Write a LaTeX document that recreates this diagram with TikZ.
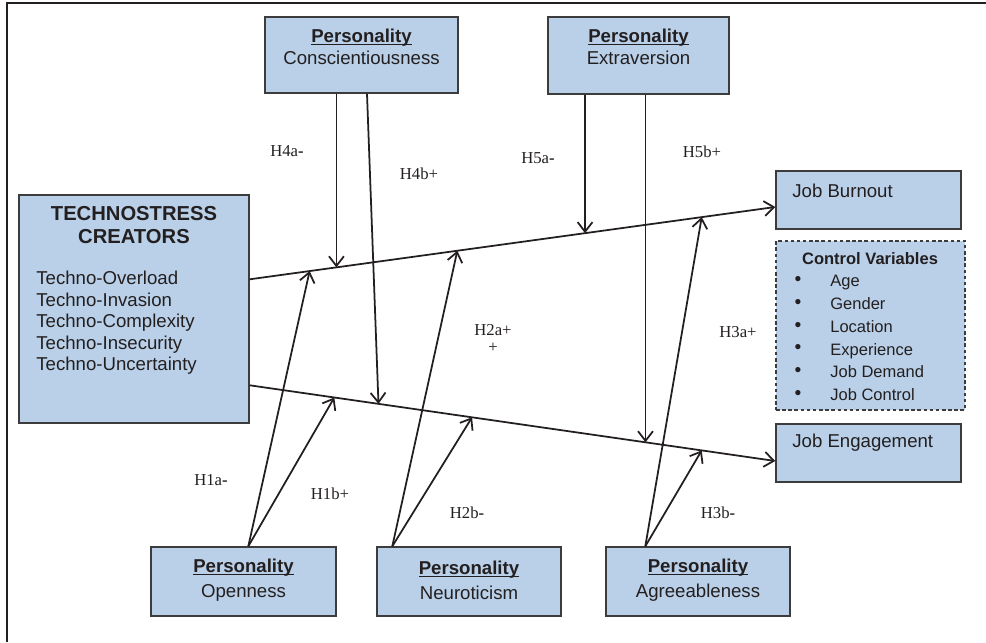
\documentclass[tikz,border=0pt]{standalone}
\usepackage{fontspec}
\setmainfont{Liberation Sans}
\newfontfamily\hfont{Liberation Serif}
\usetikzlibrary{arrows.meta,calc,fit}
\definecolor{boxfill}{RGB}{185,208,232}
\definecolor{boxline}{RGB}{60,60,60}
\definecolor{ink}{RGB}{35,31,32}
\newcommand\persul[1]{\setbox0\hbox{#1}\rlap{\rule[-1.6pt]{\wd0}{0.75pt}}\box0}
\newcommand\perstitle{\textbf{\persul{Personality}}}
\begin{document}
\begin{tikzpicture}[x=0.02cm,y=-0.02cm,
  box/.style={draw=boxline, line width=0.8pt, fill=boxfill, inner sep=0pt},
  dbox/.style={box, dash pattern=on 2pt off 1.5pt},
  txt/.style={inner sep=0pt, text=ink, font=\fontsize{10.6}{12.5}\selectfont},
  ptxt/.style={txt, align=center, font=\fontsize{10.6}{14.2}\selectfont},
  hyp/.style={inner sep=0pt, text=ink, font=\hfont\fontsize{9.5}{11}\selectfont},
  arr/.style={draw=ink, line width=1pt, -{Straight Barb[length=5.5pt,width=8.5pt]}},
  frameline/.style={draw=ink, line width=1.7pt}]

\useasboundingbox (0,0) rectangle (986,642);
\coordinate (fTR) at (986,3);
\coordinate (fTL) at (7,3);
\coordinate (fBL) at (7,642);
\draw[frameline] (fTR) -- (fTL) -- (fBL);

% boxes
\node[box, fit={(265,17)(458,93)}] (cons) {};
\node[box, fit={(548,17)(729,94)}] (ext) {};
\node[box, fit={(19,195)(249,423)}] (tc) {};
\node[box, fit={(776,171)(961,229)}] (jb) {};
\node[dbox, fit={(776,241)(965,410)}] (cv) {};
\node[box, fit={(776,424)(961,482)}] (je) {};
\node[box, fit={(151,547)(336,616)}] (open) {};
\node[box, fit={(377,547)(561,616)}] (neuro) {};
\node[box, fit={(606,547)(790,616)}] (agree) {};

% box texts
\node[txt, align=center] (cons-t) at (361.5,47) {\perstitle\\Conscientiousness};
\node[txt, align=center] (ext-t) at (638.5,47) {\perstitle\\Extraversion};
\node[txt, align=center, font=\bfseries\fontsize{11.5}{13.6}\selectfont] (tc-h) at (134,225) {TECHNOSTRESS\\CREATORS};
\node[txt, align=left, anchor=west, font=\fontsize{10.6}{12.2}\selectfont] (tc-l) at (36,323)
  {Techno-Overload\\Techno-Invasion\\Techno-Complexity\\Techno-Insecurity\\Techno-Uncertainty};
\node[txt, anchor=west] (jb-t) at (792,191) {Job Burnout};
\node[txt, anchor=west] (je-t) at (792,443) {Job Engagement};
\node[txt, font=\bfseries\fontsize{9.4}{11}\selectfont] (cv-h) at (870,259) {Control Variables};
\node[txt, align=center, font=\fontsize{11}{13}\selectfont] (cv-b) at (798,338) {•\\•\\•\\•\\•\\•};
\node[txt, align=left, anchor=west, font=\fontsize{9.4}{13}\selectfont] (cv-l) at (830,338)
  {Age\\Gender\\Location\\Experience\\Job Demand\\Job Control};
\node[ptxt] (open-t) at (243.5,580) {\perstitle\\Openness};
\node[ptxt] (neuro-t) at (469,580) {\perstitle\\Neuroticism};
\node[ptxt] (agree-t) at (698,580) {\perstitle\\Agreeableness};

% hypothesis labels
\node[hyp] (h4a) at (287,151) {H4a\textbf{-}};
\node[hyp] (h4b) at (419,174) {H4b+};
\node[hyp] (h5a) at (538,158) {H5a\textbf{-}};
\node[hyp] (h5b) at (702,152) {H5b+};
\node[hyp] (h2a) at (493,330) {H2a+};
\node[hyp] (h2ap) at (493,348) {+};
\node[hyp] (h3a) at (738,332) {H3a+};
\node[hyp] (h1a) at (211,480) {H1a\textbf{-}};
\node[hyp] (h1b) at (330,494) {H1b+};
\node[hyp] (h2b) at (467,513) {H2b\textbf{-}};
\node[hyp] (h3b) at (718,513) {H3b\textbf{-}};

% main paths
\coordinate (p1) at ($(tc.north east)+(0,85)$);
\coordinate (q1) at ($(jb.west)+(0,7)$);
\coordinate (p2) at ($(tc.north east)+(0,191)$);
\coordinate (q2) at ($(je.west)+(0,8)$);
\draw[arr] (p1) -- (q1);
\draw[arr] (p2) -- (q2);

% points on the paths
\coordinate (c1) at ($(p1)!0.165!(q1)$);
\coordinate (c2) at ($(p2)!0.245!(q2)$);
\coordinate (e1) at ($(p1)!0.638!(q1)$);
\coordinate (e2) at ($(p2)!0.753!(q2)$);
\coordinate (o1) at ($(p1)!0.114!(q1)$);
\coordinate (o2) at ($(p2)!0.161!(q2)$);
\coordinate (n1) at ($(p1)!0.395!(q1)$);
\coordinate (n2) at ($(p2)!0.423!(q2)$);
\coordinate (a1) at ($(p1)!0.860!(q1)$);
\coordinate (a2) at ($(p2)!0.860!(q2)$);

% moderator arrows from top
\coordinate (cs2) at ($(cons.south)+(5.5,0)$);
\draw[arr] (c1 |- cons.south) -- (c1);
\draw[arr] (cs2) -- (c2);
\draw[arr] (e1 |- ext.south) -- (e1);
\draw[arr] (e2 |- ext.south) -- (e2);

% moderator arrows from bottom
\coordinate (os) at ($(open.north west)+(98,0)$);
\coordinate (ns) at ($(neuro.north west)+(16,0)$);
\coordinate (as) at ($(agree.north west)+(40,0)$);
\draw[arr] (os) -- (o1);
\draw[arr] (os) -- (o2);
\draw[arr] (ns) -- (n1);
\draw[arr] (ns) -- (n2);
\draw[arr] (as) -- (a1);
\draw[arr] (as) -- (a2);
\end{tikzpicture}
\end{document}
